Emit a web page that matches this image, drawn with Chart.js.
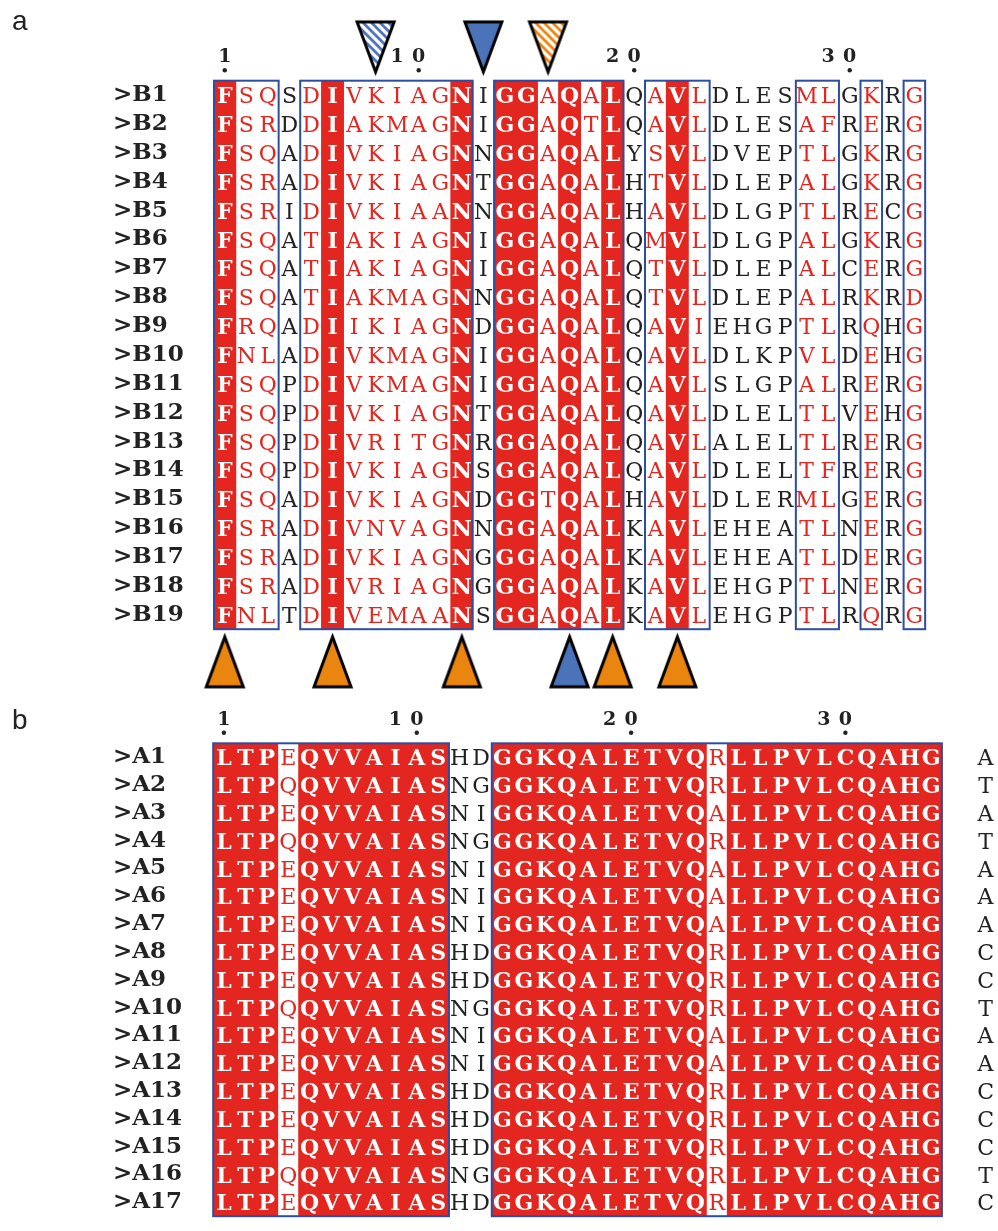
<!DOCTYPE html>
<html>
<head>
<meta charset="utf-8">
<title>Sequence alignment</title>
<script src="https://cdn.jsdelivr.net/npm/chart.js@4.4.1/dist/chart.umd.min.js"></script>
<style>
  html, body { margin: 0; padding: 0; background: #fff; overflow: hidden; }
  #panelA { position: absolute; left: 0; top: 0; }
  #panelB { position: absolute; left: 0; top: 700px; }
</style>
</head>
<body>
<canvas id="panelA" width="998" height="700"></canvas>
<canvas id="panelB" width="998" height="533"></canvas>
<script>
// panel a : B sequences
const namesA = ['>B1', '>B2', '>B3', '>B4', '>B5', '>B6', '>B7', '>B8', '>B9', '>B10',
  '>B11', '>B12', '>B13', '>B14', '>B15', '>B16', '>B17', '>B18', '>B19'];
const seqsA = [
  'FSQSDIVKIAGNIGGAQALQAVLDLESMLGKRG',
  'FSRDDIAKMAGNIGGAQTLQAVLDLESAFRERG',
  'FSQADIVKIAGNNGGAQALYSVLDVEPTLGKRG',
  'FSRADIVKIAGNTGGAQALHTVLDLEPALGKRG',
  'FSRIDIVKIAANNGGAQALHAVLDLGPTLRECG',
  'FSQATIAKIAGNIGGAQALQMVLDLGPALGKRG',
  'FSQATIAKIAGNIGGAQALQTVLDLEPALCERG',
  'FSQATIAKMAGNNGGAQALQTVLDLEPALRKRD',
  'FRQADIIKIAGNDGGAQALQAVIEHGPTLRQHG',
  'FNLADIVKMAGNIGGAQALQAVLDLKPVLDEHG',
  'FSQPDIVKMAGNIGGAQALQAVLSLGPALRERG',
  'FSQPDIVKIAGNTGGAQALQAVLDLELTLVEHG',
  'FSQPDIVRITGNRGGAQALQAVLALELTLRERG',
  'FSQPDIVKIAGNSGGAQALQAVLDLELTFRERG',
  'FSQADIVKIAGNDGGTQALHAVLDLERMLGERG',
  'FSRADIVNVAGNNGGAQALKAVLEHEATLNERG',
  'FSRADIVKIAGNGGGAQALKAVLEHEATLDERG',
  'FSRADIVRIAGNGGGAQALKAVLEHGPTLNERG',
  'FNLTDIVEMAANSGGAQALKAVLEHGPTLRQRG'
];
// R = identical column, S = similar, N = not conserved
const classA = 'RSSN' + 'SRSSSSSR' + 'N' + 'RRSRSR' + 'N' + 'SRS' + 'NNNN' + 'SS' + 'N' + 'S' + 'N' + 'S';
const boxesA = [[1, 3], [5, 12], [14, 19], [21, 23], [28, 29], [31, 31], [33, 33]];
const numberTicksA = [1, 10, 20, 30];
const topMarkColsA = [8, 13, 16];
const topMarkKindsA = ['blueHatch', 'blue', 'orangeHatch'];
const bottomMarkColsA = [1, 6, 12, 17, 19, 22];
const bottomMarkKindsA = ['orange', 'orange', 'orange', 'blue', 'orange', 'orange'];

// panel b : A sequences
const namesB = ['>A1', '>A2', '>A3', '>A4', '>A5', '>A6', '>A7', '>A8', '>A9', '>A10',
  '>A11', '>A12', '>A13', '>A14', '>A15', '>A16', '>A17'];
const seqsB = [
  'LTPEQVVAIASHDGGKQALETVQRLLPVLCQAHG',
  'LTPQQVVAIASNGGGKQALETVQRLLPVLCQAHG',
  'LTPEQVVAIASNIGGKQALETVQALLPVLCQAHG',
  'LTPQQVVAIASNGGGKQALETVQRLLPVLCQAHG',
  'LTPEQVVAIASNIGGKQALETVQALLPVLCQAHG',
  'LTPEQVVAIASNIGGKQALETVQALLPVLCQAHG',
  'LTPEQVVAIASNIGGKQALETVQALLPVLCQAHG',
  'LTPEQVVAIASHDGGKQALETVQRLLPVLCQAHG',
  'LTPEQVVAIASHDGGKQALETVQRLLPVLCQAHG',
  'LTPQQVVAIASNGGGKQALETVQRLLPVLCQAHG',
  'LTPEQVVAIASNIGGKQALETVQALLPVLCQAHG',
  'LTPEQVVAIASNIGGKQALETVQALLPVLCQAHG',
  'LTPEQVVAIASHDGGKQALETVQRLLPVLCQAHG',
  'LTPEQVVAIASHDGGKQALETVQRLLPVLCQAHG',
  'LTPEQVVAIASHDGGKQALETVQRLLPVLCQAHG',
  'LTPQQVVAIASNGGGKQALETVQRLLPVLCQAHG',
  'LTPEQVVAIASHDGGKQALETVQRLLPVLCQAHG'
];
const classB = 'RRRS' + 'RRRRRRR' + 'NN' + 'RRRRRRRRRR' + 'S' + 'RRRRRRRRRR';
const boxesB = [[1, 11], [14, 34]];
const numberTicksB = [1, 10, 20, 30];
const extraB = ['A', 'T', 'A', 'T', 'A', 'A', 'A', 'C', 'C', 'T', 'A', 'A', 'C', 'C', 'C', 'T', 'C'];

const RED = '#e3261f';
const INK = '#222222';
const FRAME = '#2c4ea1';
const BLUE = '#4a73b9';
const ORANGE = '#ea8510';
const SERIF = '"DejaVu Serif", "Liberation Serif", serif';

// triangle markers drawn once into small canvases, used as pointStyle images
function makeTriangle(fill, hatched, pointsUp) {
  const w = 37, h = 50, pad = 6;
  const cv = document.createElement('canvas');
  cv.width = w + pad * 2;
  cv.height = h + pad * 2;
  const c = cv.getContext('2d');
  c.translate(pad, pad);
  const path = () => {
    c.beginPath();
    if (pointsUp) { c.moveTo(w / 2, 0); c.lineTo(w, h); c.lineTo(0, h); }
    else { c.moveTo(0, 0); c.lineTo(w, 0); c.lineTo(w / 2, h); }
    c.closePath();
  };
  path();
  c.fillStyle = fill;
  c.fill();
  if (hatched) {
    c.save();
    path();
    c.clip();
    c.strokeStyle = '#fff';
    c.lineWidth = 3.2;
    for (let k = -h; k < w + h; k += 8.5) {
      c.beginPath();
      c.moveTo(k, 0);
      c.lineTo(k + h, h);
      c.stroke();
    }
    c.restore();
  }
  path();
  c.strokeStyle = '#000';
  c.lineWidth = 3;
  c.lineJoin = 'miter';
  c.stroke();
  return cv;
}

const markerImages = {
  down: {
    blue: makeTriangle(BLUE, false, false),
    blueHatch: makeTriangle(BLUE, true, false),
    orangeHatch: makeTriangle(ORANGE, true, false)
  },
  up: {
    blue: makeTriangle(BLUE, false, true),
    orange: makeTriangle(ORANGE, false, true)
  }
};

function alignmentPlugin(p) {
  return {
    id: 'alignment',
    afterDatasetsDraw(chart) {
      const { ctx } = chart;
      const x = chart.scales.x, y = chart.scales.y;
      const fs = 22;
      ctx.save();
      ctx.textAlign = 'center';
      ctx.textBaseline = 'alphabetic';

      p.seqs.forEach((seq, r) => {
        const py = y.getPixelForValue(r + 1) + fs * 0.365;
        [...seq].forEach((ch, c) => {
          const cls = p.classes[c];
          ctx.font = (cls === 'R' ? 'bold ' : '') + fs + 'px ' + SERIF;
          ctx.fillStyle = cls === 'R' ? '#fff' : (cls === 'S' ? RED : INK);
          ctx.fillText(ch, x.getPixelForValue(c + 1), py);
        });
        if (p.extra) {
          ctx.font = fs + 'px ' + SERIF;
          ctx.fillStyle = INK;
          ctx.fillText(p.extra[r], x.getPixelForValue(p.extraCol), py);
        }
      });

      // blue frames round the conserved blocks
      const top = y.getPixelForValue(0.5);
      const bottom = y.getPixelForValue(p.seqs.length + 0.5);
      ctx.strokeStyle = FRAME;
      ctx.lineWidth = 2;
      p.boxes.forEach(([a, b]) => {
        const l = x.getPixelForValue(a - 0.5);
        const rr = x.getPixelForValue(b + 0.5);
        ctx.strokeRect(l, top, rr - l, bottom - top);
      });

      // position numbers, one digit per column, last digit over the dot
      ctx.font = 'bold 19px ' + SERIF;
      ctx.fillStyle = INK;
      p.ticks.forEach(t => {
        const s = String(t);
        [...s].forEach((d, i) => {
          ctx.fillText(d, x.getPixelForValue(t - (s.length - 1 - i)), top - 18.5);
        });
        ctx.beginPath();
        ctx.arc(x.getPixelForValue(t), top - 10.5, 2.2, 0, Math.PI * 2);
        ctx.fill();
      });

      // panel letter
      ctx.font = '28px "Liberation Sans", Arial, sans-serif';
      ctx.textAlign = 'left';
      ctx.fillText(p.label, 12, p.labelY);
      ctx.restore();
    }
  };
}

function buildPanel(canvasId, p) {
  const n = p.names.length;
  const redCols = [];
  [...p.classes].forEach((cls, i) => { if (cls === 'R') redCols.push(i + 1); });

  const markData = p.marks.map(m => ({ x: m.col, y: m.y }));
  const markStyles = p.marks.map(m => m.image);

  return new Chart(document.getElementById(canvasId), {
    type: 'bar',
    data: {
      datasets: [
        {
          type: 'bar',
          data: redCols.map(c => ({ x: c, y: [0.5, n + 0.5] })),
          backgroundColor: RED,
          borderWidth: 0,
          barThickness: p.colWidth + 0.7,
          order: 2
        },
        {
          type: 'scatter',
          data: markData,
          pointStyle: ctx => markStyles[ctx.dataIndex],
          // large radius so points outside the plot area are not skipped
          pointRadius: 45,
          pointHoverRadius: 45,
          borderWidth: 0,
          clip: false,
          order: 1
        }
      ]
    },
    options: {
      responsive: false,
      animation: false,
      events: [],
      layout: { autoPadding: false, padding: p.padding },
      plugins: {
        legend: { display: false },
        tooltip: { enabled: false },
        title: { display: false }
      },
      scales: {
        x: {
          type: 'linear',
          display: false,
          offset: false,
          min: 0.5,
          max: p.xMax,
          afterBuildTicks: axis => { axis.ticks = p.ticks.map(v => ({ value: v })); }
        },
        y: {
          type: 'linear',
          position: 'left',
          reverse: true,
          min: 0.5,
          max: n + 0.5,
          grid: { display: false },
          border: { display: false },
          afterBuildTicks: axis => { axis.ticks = p.names.map((_, i) => ({ value: i + 1 })); },
          afterFit: axis => { axis.width = p.axisWidth; },
          ticks: {
            autoSkip: false,
            crossAlign: 'far',
            color: INK,
            font: { family: 'DejaVu Serif', size: 23, weight: 'bold' },
            callback: v => p.names[v - 1]
          }
        }
      }
    },
    plugins: [alignmentPlugin(p)]
  });
}

const marksA = [
  ...topMarkColsA.map((c, i) => ({ col: c, y: -0.67, image: markerImages.down[topMarkKindsA[i]] })),
  ...bottomMarkColsA.map((c, i) => ({ col: c, y: 20.63, image: markerImages.up[bottomMarkKindsA[i]] }))
];

buildPanel('panelA', {
  names: namesA, seqs: seqsA, classes: classA, boxes: boxesA, ticks: numberTicksA,
  marks: marksA, label: 'a', labelY: 30,
  colWidth: 21.55, xMax: 36.5, axisWidth: 101,
  padding: { left: 113, right: 8.2, top: 80.7, bottom: 70.8 }
});

buildPanel('panelB', {
  names: namesB, seqs: seqsB, classes: classB, boxes: boxesB, ticks: numberTicksB,
  marks: [], extra: extraB, extraCol: 36.54, label: 'b', labelY: 29,
  colWidth: 21.43, xMax: 37, axisWidth: 100.2,
  padding: { left: 113, right: 2.6, top: 43.3, bottom: 0.95 }
});
</script>
</body>
</html>
